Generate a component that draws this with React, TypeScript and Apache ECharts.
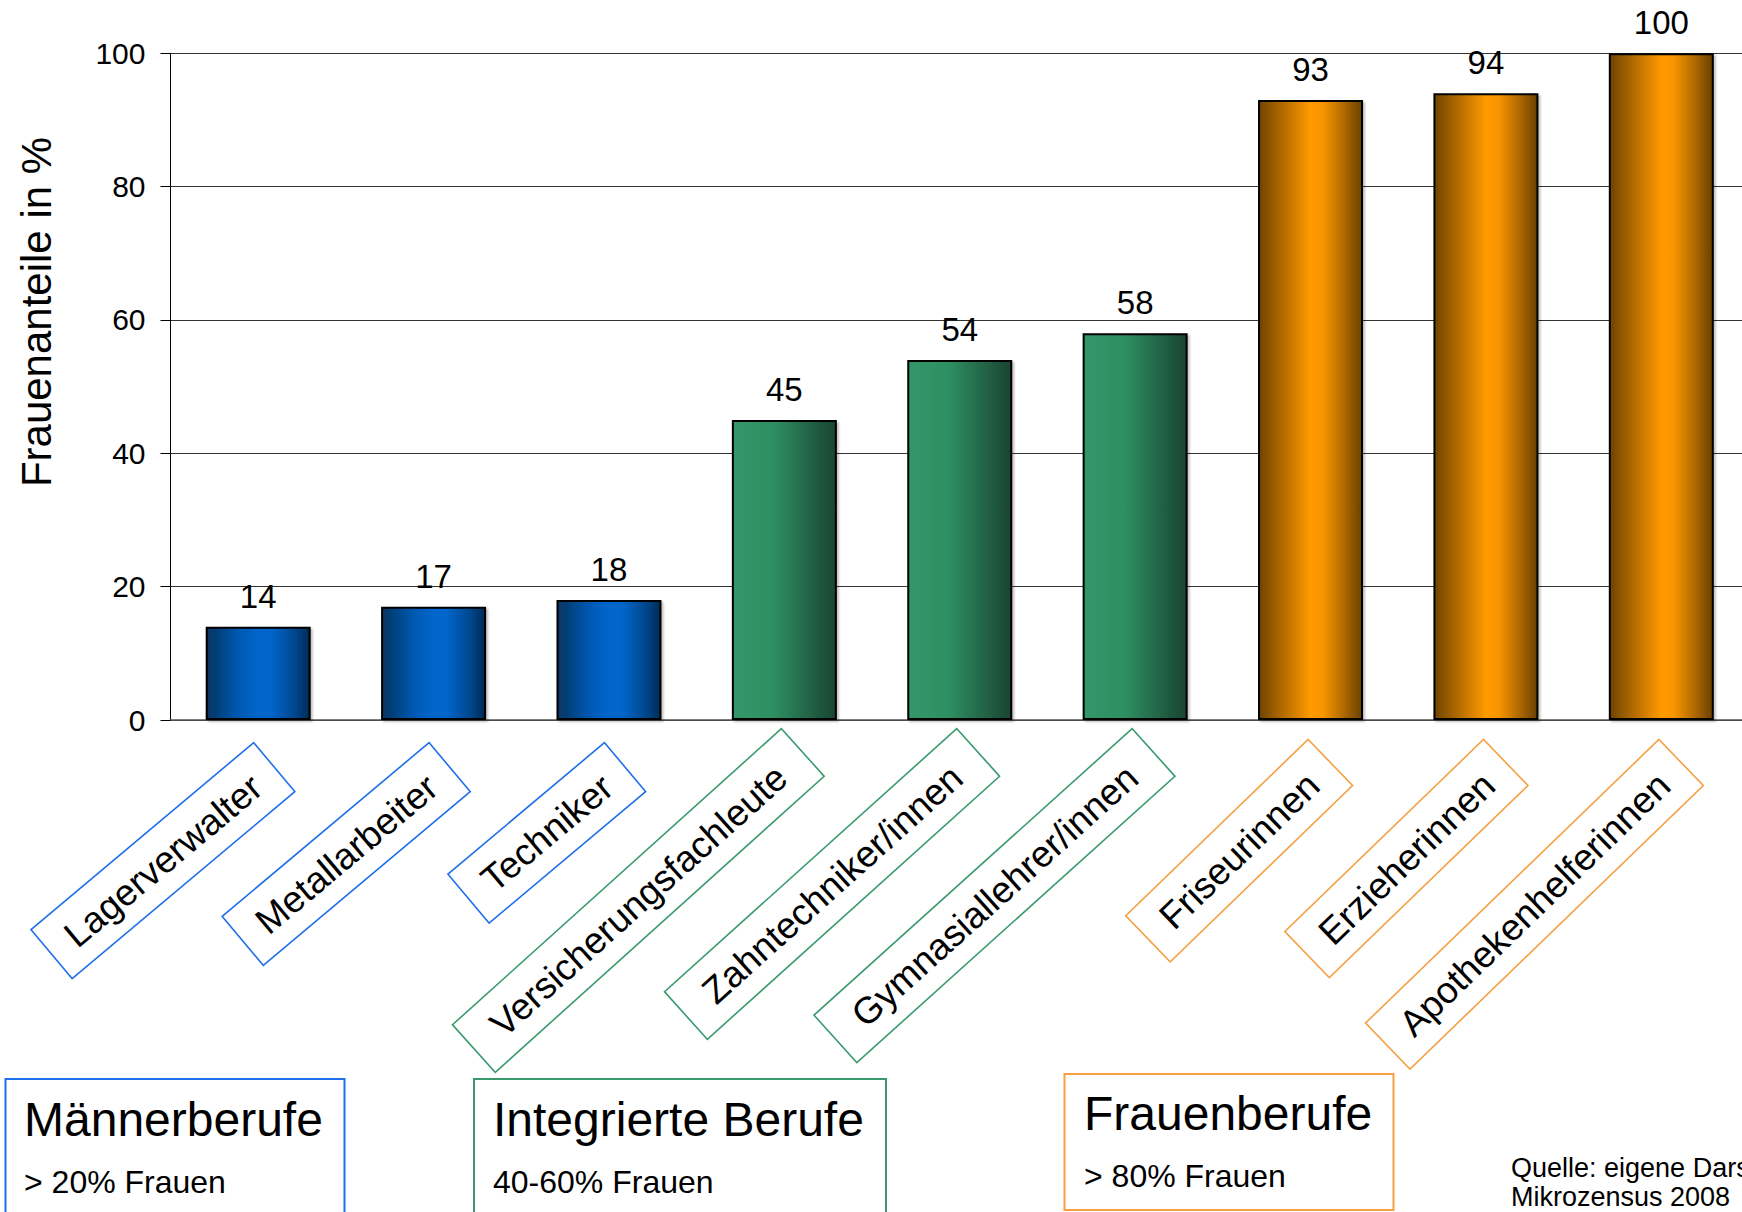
import React, { useEffect, useRef } from "react";
import * as echarts from "echarts";

// ---------- data ----------
const categories = [
  "Lagerverwalter",
  "Metallarbeiter",
  "Techniker",
  "Versicherungsfachleute",
  "Zahntechniker/innen",
  "Gymnasiallehrer/innen",
  "Friseurinnen",
  "Erzieherinnen",
  "Apothekenhelferinnen",
];
const values = [14, 17, 18, 45, 54, 58, 93, 94, 100];
const groupOf = [0, 0, 0, 1, 1, 1, 2, 2, 2];
const groupTitles = ["Männerberufe", "Integrierte Berufe", "Frauenberufe"];
const groupSubtitles = ["> 20% Frauen", "40-60% Frauen", "> 80% Frauen"];
const yAxisTitle = "Frauenanteile in %";
const yMin = 0;
const yMax = 100;
const yStep = 20;
const sourceLines = ["Quelle: eigene Darstellung", "Mikrozensus 2008"];

// ---------- styles ----------
const FONT = "'Liberation Sans', Arial, Helvetica, sans-serif";
const groupColors = ["#1F6FEA", "#3A9A6E", "#F5A043"];
const groupGradients = [
  [
    [0, "#08345F"],
    [0.3, "#0058B0"],
    [0.5, "#0066CC"],
    [0.62, "#0066CC"],
    [0.85, "#00488F"],
    [1, "#002A55"],
  ],
  [
    [0, "#31976A"],
    [0.4, "#2E8F62"],
    [0.7, "#23694A"],
    [1, "#1A4430"],
  ],
  [
    [0, "#704400"],
    [0.25, "#B86E00"],
    [0.5, "#FF9A00"],
    [0.62, "#F99500"],
    [0.82, "#B06A00"],
    [1, "#6A4000"],
  ],
];
// per group: label rotation, margin from axis, leading spacer height, side padding
const labelGeom = [
  { rotate: 40, margin: 28, lead: 50, pad: 23 },
  { rotate: 42, margin: 12, lead: 55, pad: 29 },
  { rotate: 44, margin: 22, lead: 57, pad: 24 },
];
const legendBoxes = [
  { x: 5.5, y: 1079, w: 339, h: 170, tx: 24, ty: 1119, sy: 1182 },
  { x: 474, y: 1079, w: 412, h: 170, tx: 493, ty: 1119, sy: 1182 },
  { x: 1064.5, y: 1074, w: 329, h: 136, tx: 1084, ty: 1113, sy: 1176 },
];

function gradient(g: number) {
  return new echarts.graphic.LinearGradient(
    0,
    0,
    1,
    0,
    groupGradients[g].map(([offset, color]) => ({ offset: offset as number, color: color as string }))
  );
}

export default function App() {
  const ref = useRef<HTMLDivElement>(null);

  useEffect(() => {
    if (!ref.current) return;
    const chart = echarts.init(ref.current, undefined, { renderer: "svg" });

    const labelAxes = [0, 1, 2].map((g) => ({
      type: "category",
      data: categories,
      gridIndex: 0,
      position: "bottom",
      axisLine: { show: false },
      axisTick: { show: false },
      splitLine: { show: false },
      axisLabel: {
        show: true,
        interval: 0,
        rotate: labelGeom[g].rotate,
        margin: labelGeom[g].margin,
        formatter: (v: string, i: number) => (groupOf[i] === g ? `{s| }\n{b|${v}}` : ""),
        rich: {
          s: { fontSize: 1, height: labelGeom[g].lead, lineHeight: labelGeom[g].lead },
          b: {
            fontSize: 37,
            lineHeight: 37,
            fontFamily: FONT,
            color: "#000",
            padding: [14, labelGeom[g].pad, 13, labelGeom[g].pad],
            borderColor: groupColors[g],
            borderWidth: 1.6,
          },
        },
      },
    }));

    const graphics: any[] = [];
    legendBoxes.forEach((b, g) => {
      graphics.push({
        type: "rect",
        shape: { x: b.x, y: b.y, width: b.w, height: b.h },
        style: { fill: "none", stroke: groupColors[g], lineWidth: 2 },
      });
      graphics.push({
        type: "text",
        x: b.tx,
        y: b.ty,
        style: {
          text: groupTitles[g],
          fontSize: 48,
          fontFamily: FONT,
          fill: "#000",
          align: "left",
          verticalAlign: "middle",
        },
      });
      graphics.push({
        type: "text",
        x: b.tx,
        y: b.sy,
        style: {
          text: groupSubtitles[g],
          fontSize: 32,
          fontFamily: FONT,
          fill: "#000",
          align: "left",
          verticalAlign: "middle",
        },
      });
    });
    graphics.push({
      type: "text",
      x: 36,
      y: 312,
      rotation: Math.PI / 2,
      style: {
        text: yAxisTitle,
        fontSize: 42,
        fontFamily: FONT,
        fill: "#000",
        align: "center",
        verticalAlign: "middle",
      },
    });
    sourceLines.forEach((t, i) => {
      graphics.push({
        type: "text",
        x: 1511,
        y: 1168 + i * 29,
        style: {
          text: t,
          fontSize: 27,
          fontFamily: FONT,
          fill: "#000",
          align: "left",
          verticalAlign: "middle",
        },
      });
    });

    chart.setOption({
      animation: false,
      backgroundColor: "#ffffff",
      textStyle: { fontFamily: FONT },
      grid: {
        left: 170.5,
        top: 53.3,
        right: -7,
        bottom: 492,
        containLabel: false,
        outerBoundsMode: "none",
      },
      xAxis: [
        {
          type: "category",
          data: categories,
          gridIndex: 0,
          position: "bottom",
          axisLine: { show: true, lineStyle: { color: "#555", width: 1.5 } },
          axisTick: { show: false },
          axisLabel: { show: false },
          splitLine: { show: false },
        },
        ...labelAxes,
      ],
      yAxis: {
        type: "value",
        min: yMin,
        max: yMax,
        interval: yStep,
        axisLine: { show: true, lineStyle: { color: "#000", width: 1 } },
        axisTick: { show: true, length: 10, lineStyle: { color: "#000", width: 1 } },
        axisLabel: { fontSize: 30, color: "#000", margin: 25, fontFamily: FONT },
        splitLine: { show: true, lineStyle: { color: "#333", width: 1 } },
      },
      series: [
        {
          type: "bar",
          xAxisIndex: 0,
          barWidth: 105,
          data: values.map((v, i) => ({
            value: v,
            itemStyle: { color: gradient(groupOf[i]) },
          })),
          itemStyle: {
            borderColor: "#000",
            borderWidth: 2,
            shadowColor: "rgba(0,0,0,0.25)",
            shadowOffsetX: 2,
            shadowOffsetY: 2,
            shadowBlur: 2,
          },
          label: {
            show: true,
            position: "top",
            distance: 14,
            fontSize: 33,
            color: "#000",
            fontFamily: FONT,
          },
        },
      ],
      graphic: graphics,
    });

    return () => chart.dispose();
  }, []);

  return (
    <div
      ref={ref}
      style={{ position: "fixed", left: 0, top: 0, width: 1742, height: 1212, background: "#fff" }}
    />
  );
}
